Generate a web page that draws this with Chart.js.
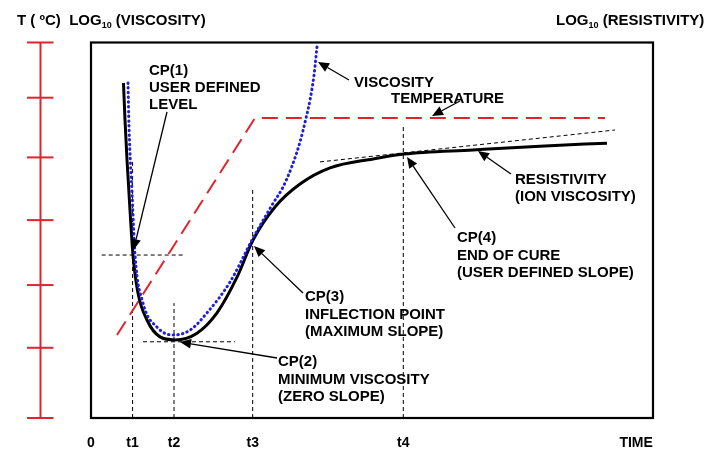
<!DOCTYPE html>
<html>
<head>
<meta charset="utf-8">
<script src="https://cdn.jsdelivr.net/npm/chart.js@4/dist/chart.umd.min.js"></script>
<style>
html,body{margin:0;padding:0;background:#fff;}
#wrap{width:721px;height:455px;position:relative;}
</style>
</head>
<body>
<div id="wrap"><canvas id="c" width="721" height="455"></canvas></div>
<script>
// ---- tick labels (time axis) ----
const timeTicks  = [0, 7.4, 14.77, 28.77, 55.57, 97];
const timeLabels = ['0', 't1', 't2', 't3', 't4', 'TIME'];

// ---- left red axis tick positions (value units 0..100) ----
const redAxisTicks = [0, 18.7, 35.4, 52.7, 69.4, 85.3, 100];

// ---- resistivity (ion viscosity), black solid ----
const resTime  = [5.78, 6.05, 6.41, 6.94, 7.47, 8.36, 9.96, 12.28, 14.95, 18.86, 22.42, 25.98, 28.83, 32.74, 37.19, 42.53, 50.18, 55.69, 67.97, 79.89, 91.81];
const resValue = [89.2, 79.4, 68.7, 55.4, 43.4, 33.3, 26.1, 21.6, 20.8, 22.6, 28.0, 37.5, 47.4, 56.2, 62.3, 66.6, 69.0, 70.3, 71.4, 72.4, 73.2];

// ---- viscosity, blue dotted ----
const viscTime  = [6.58, 6.76, 7.3, 7.83, 9.25, 11.74, 14.59, 17.62, 20.64, 24.73, 28.83, 32.21, 34.16, 35.77, 37.19, 38.26, 38.97, 39.68, 40.21];
const viscValue = [89.2, 77.5, 59.9, 43.4, 30.6, 24.2, 22.1, 23.4, 28.0, 36.2, 47.9, 56.7, 61.5, 67.1, 73.5, 79.9, 84.7, 91.3, 98.8];

// ---- temperature, red dashed ----
const tempTime  = [4.63, 29.18, 91.46];
const tempValue = [22.1, 79.9, 79.9];

// ---- guide lines (thin dashed) ----
const vGuideTimes = [7.4, 14.77, 28.77, 55.57];
const vGuideTops  = [68.3, 30.6, 61.2, 77.6];
const cp1LevelTime = [1.9, 16.4];   const cp1LevelValue = [43.4, 43.4];
const minLevelTime = [9.25, 25.6];  const minLevelValue = [20.3, 20.3];
const tangentTime  = [40.75, 93.24]; const tangentValue = [68.2, 76.7];

// ---- annotations (data units) ----
const noteText = [
  ['CP(1)', 'USER DEFINED', 'LEVEL'],
  ['VISCOSITY'],
  ['TEMPERATURE'],
  ['RESISTIVITY', '(ION VISCOSITY)'],
  ['CP(4)', 'END OF CURE', '(USER DEFINED SLOPE)'],
  ['CP(3)', 'INFLECTION POINT', '(MAXIMUM SLOPE)'],
  ['CP(2)', 'MINIMUM VISCOSITY', '(ZERO SLOPE)']
];
const noteTime  = [10.32, 46.8, 53.38, 75.44, 65.12, 38.08, 33.27];
const noteValue = [91.34, 88.28, 83.89, 62.45, 46.74, 31.03, 13.72];

const arrowFromTime  = [13.52, 45.91, 65.66, 74.73, 64.77, 37.72, 33.1];
const arrowFromValue = [81.49, 90.01, 84.42, 64.98, 50.6, 33.29, 15.98];
const arrowToTime    = [7.56, 40.39, 60.68, 68.86, 56.23, 29.0, 15.84];
const arrowToValue   = [44.74, 94.81, 80.43, 71.1, 69.51, 45.81, 20.24];

const pts = (xs, ys) => xs.map((x, i) => ({x: x, y: ys[i]}));
const FONT = '"Liberation Sans", Arial, Helvetica, sans-serif';

const guideStyle = {borderColor: '#000', borderWidth: 1, borderDash: [4, 3], pointRadius: 0, fill: false, order: 5, tension: 0};

const datasets = [
  Object.assign({label: 'CP1 level', data: pts(cp1LevelTime, cp1LevelValue)}, guideStyle),
  Object.assign({label: 'Min level', data: pts(minLevelTime, minLevelValue)}, guideStyle),
  Object.assign({label: 'Tangent', data: pts(tangentTime, tangentValue)}, guideStyle),
];
vGuideTimes.forEach((t, i) => {
  datasets.push(Object.assign({label: 'guide ' + timeLabels[i + 1], data: pts([t, t], [0, vGuideTops[i]])}, guideStyle));
});
datasets.push({
  label: 'Temperature', data: pts(tempTime, tempValue),
  borderColor: '#e3232b', borderWidth: 2, borderDash: [16, 8], pointRadius: 0, tension: 0, order: 3
});
datasets.push({
  label: 'Resistivity', data: pts(resTime, resValue),
  borderColor: '#000', borderWidth: 3, pointRadius: 0, cubicInterpolationMode: 'monotone', order: 2
});
datasets.push({
  label: 'Viscosity', data: pts(viscTime, viscValue),
  borderColor: '#1f1fd6', borderWidth: 3, borderDash: [0.5, 4.2], borderCapStyle: 'round',
  pointRadius: 0, cubicInterpolationMode: 'monotone', order: 1
});

function drawArrow(ctx, x1, y1, x2, y2) {
  const ang = Math.atan2(y2 - y1, x2 - x1);
  const L = 11, W = 4.8;
  const bx = x2 - L * Math.cos(ang), by = y2 - L * Math.sin(ang);
  ctx.beginPath();
  ctx.moveTo(x1, y1);
  ctx.lineTo(bx, by);
  ctx.strokeStyle = '#000';
  ctx.lineWidth = 1.3;
  ctx.stroke();
  ctx.beginPath();
  ctx.moveTo(x2, y2);
  ctx.lineTo(bx + W * Math.sin(ang), by - W * Math.cos(ang));
  ctx.lineTo(bx - W * Math.sin(ang), by + W * Math.cos(ang));
  ctx.closePath();
  ctx.fillStyle = '#000';
  ctx.fill();
}

function drawSubTitle(ctx, x, y, parts) {
  parts.forEach(p => {
    ctx.font = p[1] ? 'bold 9px ' + FONT : 'bold 15px ' + FONT;
    ctx.fillText(p[0], x, p[1] ? y + 3 : y);
    x += ctx.measureText(p[0]).width;
  });
}

const decor = {
  id: 'decor',
  afterDraw(chart) {
    const ctx = chart.ctx, a = chart.chartArea;
    const xs = chart.scales.x, ys = chart.scales.y;
    ctx.save();
    // plot frame
    ctx.strokeStyle = '#000';
    ctx.lineWidth = 2.2;
    ctx.strokeRect(a.left, a.top, a.right - a.left, a.bottom - a.top);

    // left red axis
    const ax = a.left - 50.5;
    ctx.strokeStyle = '#e3232b';
    ctx.lineWidth = 2;
    ctx.beginPath();
    ctx.moveTo(ax, ys.getPixelForValue(100));
    ctx.lineTo(ax, ys.getPixelForValue(0));
    ctx.stroke();
    redAxisTicks.forEach(v => {
      const py = ys.getPixelForValue(v);
      ctx.beginPath();
      ctx.moveTo(ax - 13.5, py);
      ctx.lineTo(ax + 13, py);
      ctx.stroke();
    });

    // arrows
    for (let i = 0; i < arrowFromTime.length; i++) {
      drawArrow(ctx,
        xs.getPixelForValue(arrowFromTime[i]), ys.getPixelForValue(arrowFromValue[i]),
        xs.getPixelForValue(arrowToTime[i]), ys.getPixelForValue(arrowToValue[i]));
    }

    // notes
    ctx.fillStyle = '#000';
    ctx.font = 'bold 15px ' + FONT;
    ctx.textBaseline = 'alphabetic';
    ctx.textAlign = 'left';
    noteText.forEach((lines, i) => {
      const px = xs.getPixelForValue(noteTime[i]);
      const py = ys.getPixelForValue(noteValue[i]);
      lines.forEach((ln, j) => ctx.fillText(ln, px, py + j * 17.2));
    });

    // axis titles
    ctx.fillStyle = '#000';
    drawSubTitle(ctx, 17, 25, [['T ( \u00BAC)  LOG', false], ['10', true], [' (VISCOSITY)', false]]);
    drawSubTitle(ctx, 556, 25, [['LOG', false], ['10', true], [' (RESISTIVITY)', false]]);
    ctx.restore();
  }
};

new Chart(document.getElementById('c'), {
  type: 'line',
  data: {datasets: datasets},
  options: {
    responsive: false,
    animation: false,
    events: [],
    layout: {padding: {left: 91, right: 68, top: 42.5, bottom: 0}},
    plugins: {legend: {display: false}, tooltip: {enabled: false}, title: {display: false}},
    scales: {
      x: {
        type: 'linear', min: 0, max: 100,
        grid: {display: false, drawTicks: false},
        border: {display: false},
        afterFit: s => { s.height = 37; },
        afterBuildTicks: s => { s.ticks = timeTicks.map(v => ({value: v})); },
        ticks: {
          autoSkip: false, maxRotation: 0, padding: 17, color: '#000',
          font: {family: FONT, size: 14, weight: 'bold'},
          callback: v => { const i = timeTicks.indexOf(v); return i >= 0 ? timeLabels[i] : ''; }
        }
      },
      y: {type: 'linear', min: 0, max: 100, display: false}
    }
  },
  plugins: [decor]
});
</script>
</body>
</html>
